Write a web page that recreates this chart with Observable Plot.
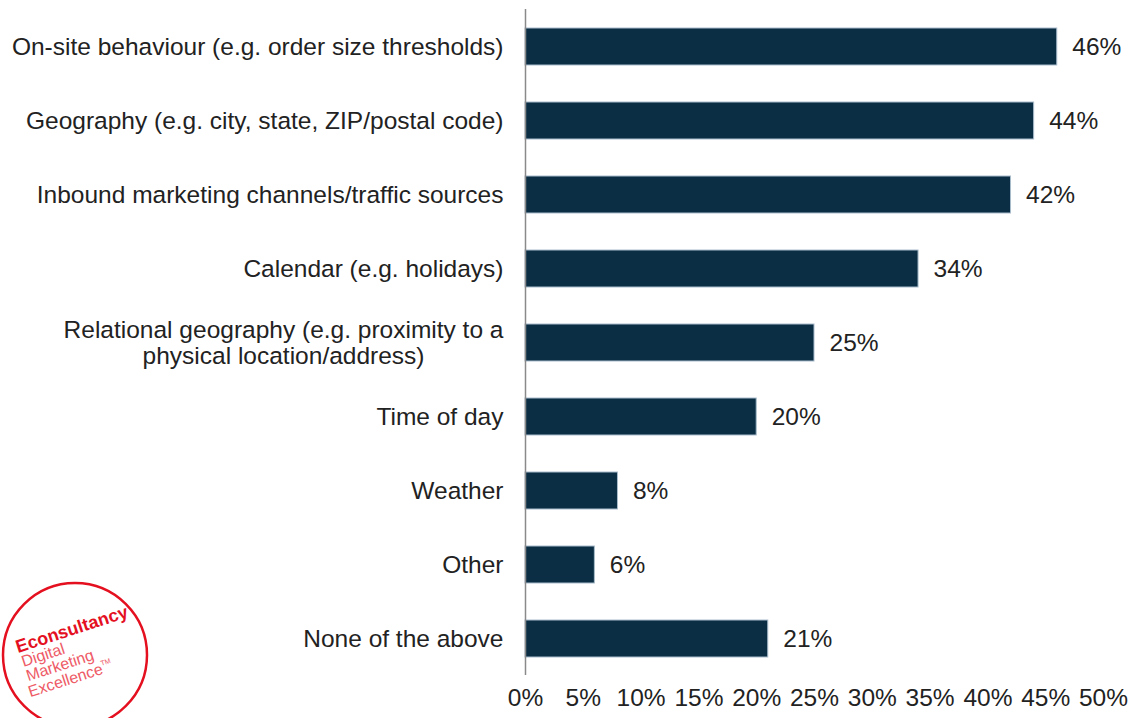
<!DOCTYPE html>
<html><head><meta charset="utf-8">
<script src="https://cdn.jsdelivr.net/npm/d3@7"></script>
<script src="https://cdn.jsdelivr.net/npm/@observablehq/plot@0.6"></script>
<style>
body{margin:0;background:#fff;}
#wrap{position:relative;width:1132px;height:718px;overflow:hidden;background:#fff;}
#logo{position:absolute;left:0;top:0;pointer-events:none;}
</style></head><body><div id="wrap"></div>
<script>
const categories = [
  "On-site behaviour (e.g. order size thresholds)",
  "Geography (e.g. city, state, ZIP/postal code)",
  "Inbound marketing channels/traffic sources",
  "Calendar (e.g. holidays)",
  "Relational geography (e.g. proximity to a\nphysical location/address)",
  "Time of day",
  "Weather",
  "Other",
  "None of the above"
];
const values = [46, 44, 42, 34, 25, 20, 8, 6, 21];
const xTicks = [0, 5, 10, 15, 20, 25, 30, 35, 40, 45, 50];
const data = categories.map((c, i) => ({category: c, value: values[i]}));

const font = "'Liberation Sans', Arial, sans-serif";
const fs = 24.5;
const chart = Plot.plot({
  width: 1132, height: 718,
  marginLeft: 525, marginRight: 29, marginTop: 9, marginBottom: 43,
  style: {fontFamily: font, fontSize: fs + "px", color: "#222", background: "white"},
  x: {domain: [0, 50], label: null, axis: null},
  y: {domain: categories, paddingInner: 0.5, paddingOuter: 0.25, label: null, axis: null},
  marks: [
    Plot.barX(data, {x: "value", y: "category", fill: "#0b2e44", stroke: "#a9bccb", strokeWidth: 1}),
    Plot.axisX({ticks: xTicks, tickFormat: d => d + "%", tickSize: 0, tickPadding: 13, fontSize: fs, label: null}),
    Plot.axisY({tickSize: 0, tickPadding: 22, fontSize: fs, lineHeight: 1.04, label: null}),
    Plot.ruleX([0], {stroke: "#8a8a8a", strokeWidth: 1.5}),
    Plot.text(data, {x: "value", y: "category", text: d => d.value + "%", textAnchor: "start", dx: 15, fontSize: fs, fill: "#222"})
  ]
});
const wrap = document.getElementById("wrap");
wrap.appendChild(chart);

// center multi-line y tick labels on themselves (as in reference)
chart.querySelectorAll("text").forEach(t => {
  const spans = t.querySelectorAll("tspan");
  if (spans.length > 1) {
    let w = 0;
    spans.forEach(s => { w = Math.max(w, s.getComputedTextLength()); });
    t.setAttribute("text-anchor", "middle");
    spans.forEach(s => s.setAttribute("x", -w / 2));
  }
});

// logo
const ns = "http://www.w3.org/2000/svg";
const logo = document.createElementNS(ns, "svg");
logo.setAttribute("id", "logo");
logo.setAttribute("width", 1132);
logo.setAttribute("height", 718);
logo.innerHTML = `
  <circle cx="75" cy="655" r="72" fill="none" stroke="#e4101f" stroke-width="2.5"/>
  <g transform="translate(18,653) rotate(-18)" font-family="${font.replace(/'/g, "")}" fill="#e4101f">
    <text x="0" y="0" font-size="18" font-weight="bold">Econsultancy</text>
    <text x="1" y="15" font-size="16" fill="#ee5a66">Digital</text>
    <text x="1" y="30" font-size="16" fill="#ee5a66">Marketing</text>
    <text x="-2" y="46" font-size="16" fill="#ee5a66">Excellence<tspan font-size="7" dy="-8">TM</tspan></text>
  </g>`;
wrap.appendChild(logo);
</script>
</body></html>
